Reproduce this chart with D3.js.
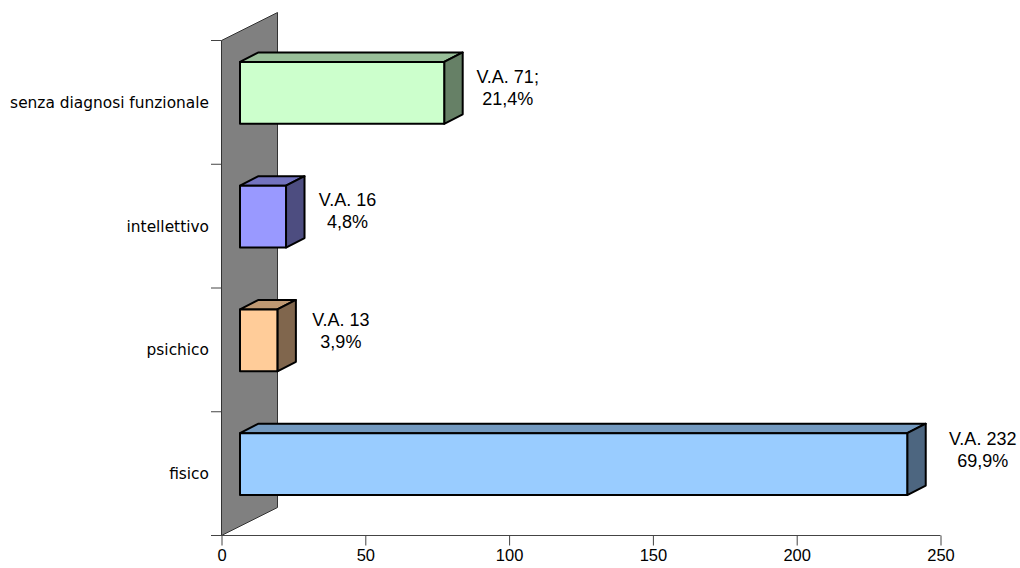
<!DOCTYPE html>
<html><head><meta charset="utf-8">
<script src="https://cdn.jsdelivr.net/npm/d3@7"></script>
<style>html,body{margin:0;padding:0;background:#fff}svg{display:block}</style></head>
<body><svg id="c" width="1020" height="568"></svg>
<script>
const categories = ["fisico","psichico","intellettivo","senza diagnosi funzionale"];
const values = [232,13,16,71];
const labelLine1 = ["V.A. 232","V.A. 13","V.A. 16","V.A. 71;"];
const labelLine2 = ["69,9%","3,9%","4,8%","21,4%"];
const fillColors = ["#99ccff","#ffcc99","#9999ff","#ccffcc"];
const topColors = ["#7399bf","#bf9973","#7373bf","#99bf99"];
const sideColors = ["#4d6680","#80664d","#4d4d80","#668066"];
const xTicks = [0,50,100,150,200,250];

const svg = d3.select("#c");
const x = d3.scaleLinear().domain([0,250]).range([221.5,940.5]);
const y = d3.scaleBand().domain(categories).range([535.5,40.5]).paddingInner(0.5).paddingOuter(0.25);
const y0 = d3.scaleBand().domain(categories).range([535.5,40.5]);
const dx = 18.5, dy = -9.5;

// wall
svg.append("path").attr("d",`M${x(0)},535.5 L${x(0)},40.5 L${x(0)+56},12.5 L${x(0)+56},507.5 Z`)
  .attr("fill","#808080").attr("stroke","#333").attr("stroke-width",1);

// category axis ticks
const tickYs = [...categories.map(c=>y0(c)+y0.bandwidth()),40.5];
svg.selectAll(".yt").data(tickYs).join("line").attr("x1",211).attr("x2",x(0))
  .attr("y1",d=>d).attr("y2",d=>d).attr("stroke","#444");

// x axis
const xAxis = d3.axisBottom(x).tickValues(xTicks).tickSize(10).tickSizeOuter(0).tickPadding(4);
const gx = svg.append("g").attr("transform","translate(0,535.5)").call(xAxis);
gx.select(".domain").attr("stroke","#444").attr("d",`M${x(0)-10},0.5H${x(250)}`).attr("transform","translate(0,-0.5)");
gx.selectAll("line").attr("stroke","#444");
gx.selectAll("text").attr("font-family","'Liberation Sans',Arial,sans-serif").attr("font-size",16.5).attr("fill","#000");

// label placement relative to each bar's outer end and top edge
const labelDx = [57,45,43,45];
const labelDy = [12,16.5,20.5,21];
const lineGap = 22.3;

// bars
const g = svg.selectAll(".b").data(categories).join("g").attr("class","b");
g.each(function(c,i){
  const s = d3.select(this);
  const x0 = x(0)+dx, x1 = x(values[i])+dx;
  const t = y(c)+dy, b = y(c)+y.bandwidth()+dy;
  const add = (d,f)=>s.append("path").attr("d",d).attr("fill",f).attr("stroke","#000").attr("stroke-width",2).attr("stroke-linejoin","round");
  add(`M${x0},${t} L${x0+dx},${t+dy} L${x1+dx},${t+dy} L${x1},${t} Z`, topColors[i]);
  add(`M${x1},${t} L${x1+dx},${t+dy} L${x1+dx},${b+dy} L${x1},${b} Z`, sideColors[i]);
  add(`M${x0},${t} H${x1} V${b} H${x0} Z`, fillColors[i]);
  const lx = x1+dx+labelDx[i], ly = t+labelDy[i];
  const tx = s.append("text").attr("font-family","'Liberation Sans',Arial,sans-serif").attr("font-size",18).attr("text-anchor","middle").attr("fill","#000");
  tx.append("tspan").attr("x",lx).attr("y",ly).text(labelLine1[i]);
  tx.append("tspan").attr("x",lx).attr("y",ly+lineGap).text(labelLine2[i]);
});

// category labels
svg.selectAll(".cl").data(categories).join("text").attr("class","cl")
  .attr("x",209).attr("y",c=>y0(c)+y0.bandwidth()/2+5.5).attr("text-anchor","end")
  .attr("font-family","'DejaVu Sans',Verdana,sans-serif").attr("font-size",15.4).attr("fill","#000").text(c=>c);
</script></body></html>
